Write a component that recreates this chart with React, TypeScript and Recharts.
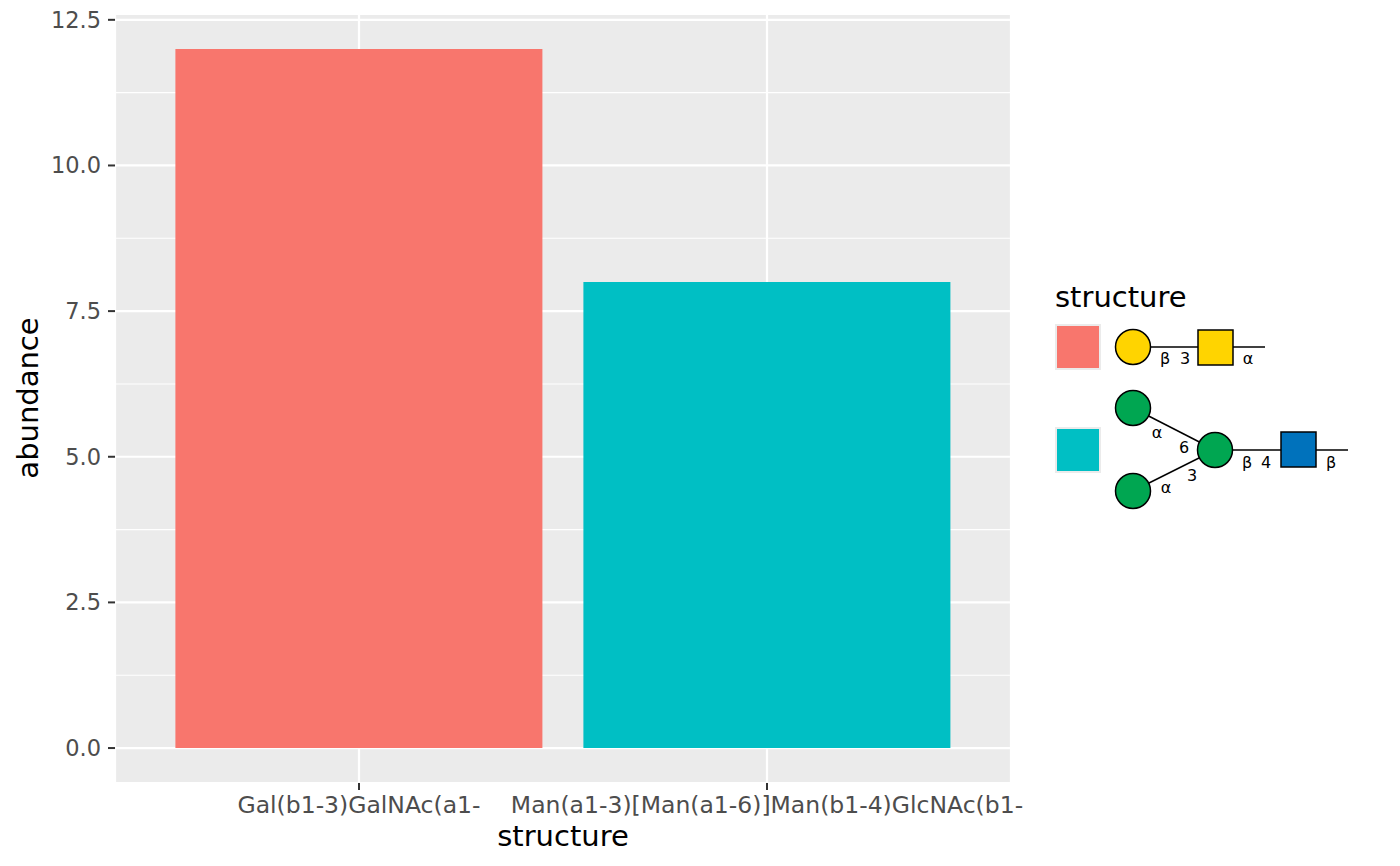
import { BarChart, Bar, XAxis, YAxis, CartesianGrid, Cell, Customized } from "recharts"

const structures = ["Gal(b1-3)GalNAc(a1-", "Man(a1-3)[Man(a1-6)]Man(b1-4)GlcNAc(b1-"]
const abundance = [12, 8]
const barColors = ["#F8766D", "#00BFC4"]
const yTicks = [0, 2.5, 5, 7.5, 10, 12.5]
const yMinorTicks = [1.25, 3.75, 6.25, 8.75, 11.25]

const data = structures.map((s, i) => ({ structure: s, abundance: abundance[i] }))

const FONT = "'DejaVu Sans', sans-serif"

function Lbl({ x, y, t, size = 16 }: { x: number; y: number; t: string; size?: number }) {
  return (
    <text x={x} y={y} fontSize={size} fontFamily={FONT} textAnchor="middle" fill="#000">
      {t}
    </text>
  )
}

// glycan cartoons drawn in the legend, keyed by structure index
function Glycan0() {
  return (
    <g stroke="#000" strokeWidth={1.5}>
      <line x1={1150} y1={347} x2={1265} y2={347} />
      <circle cx={1133} cy={347} r={17.5} fill="#FFD400" />
      <rect x={1198} y={330} width={35} height={35} fill="#FFD400" />
      <g stroke="none">
        <Lbl x={1165} y={364} t="β" />
        <Lbl x={1185} y={364} t="3" />
        <Lbl x={1248} y={364} t="α" />
      </g>
    </g>
  )
}

function Glycan1() {
  return (
    <g stroke="#000" strokeWidth={1.5}>
      <line x1={1133} y1={408} x2={1215} y2={450} />
      <line x1={1133} y1={491} x2={1215} y2={450} />
      <line x1={1215} y1={450} x2={1348} y2={450} />
      <circle cx={1133} cy={408} r={17.5} fill="#00A651" />
      <circle cx={1133} cy={491} r={17.5} fill="#00A651" />
      <circle cx={1215} cy={450} r={17.5} fill="#00A651" />
      <rect x={1281} y={432} width={35} height={35} fill="#0072BC" />
      <g stroke="none">
        <Lbl x={1157} y={438} t="α" />
        <Lbl x={1184} y={453} t="6" />
        <Lbl x={1166} y={493} t="α" />
        <Lbl x={1192} y={481} t="3" />
        <Lbl x={1247} y={468} t="β" />
        <Lbl x={1266} y={468} t="4" />
        <Lbl x={1331} y={468} t="β" />
      </g>
    </g>
  )
}

const glycans = [Glycan0, Glycan1]
const keyTops = [325, 428]

function LegendAndTitles() {
  return (
    <g>
      <text x={28} y={398} transform="rotate(-90 28 398)" fontSize={29} fontFamily={FONT} textAnchor="middle" dominantBaseline="central" fill="#000">
        abundance
      </text>
      <text x={563} y={846} fontSize={29} fontFamily={FONT} textAnchor="middle" fill="#000">
        structure
      </text>
      <text x={1055} y={307} fontSize={29} fontFamily={FONT} fill="#000">
        structure
      </text>
      {structures.map((s, i) => {
        const G = glycans[i]
        return (
          <g key={s}>
            <rect x={1056} y={keyTops[i]} width={44} height={44} fill={barColors[i]} stroke="#EBEBEB" strokeWidth={2} />
            <G />
          </g>
        )
      })}
    </g>
  )
}

export default function App() {
  return (
    <div style={{ position: "absolute", left: 0, top: 0, width: 1400, height: 866, background: "#fff" }}>
      <BarChart
        width={1400}
        height={866}
        data={data}
        margin={{ top: 14, right: 389, bottom: 0, left: 0 }}
        barCategoryGap="5%"
      >
        <CartesianGrid fill="#EBEBEB" stroke="#FFFFFF" strokeWidth={1.1} vertical={false} horizontalValues={yMinorTicks} />
        <CartesianGrid stroke="#FFFFFF" strokeWidth={2.2} />
        <XAxis
          dataKey="structure"
          height={83}
          padding={{ left: 40, right: 40 }}
          axisLine={false}
          tickSize={7}
          tickMargin={6}
          tickLine={{ stroke: "#333333", strokeWidth: 2 }}
          tick={{ fontSize: 23.5, fill: "#4D4D4D", fontFamily: FONT }}
          interval={0}
        />
        <YAxis
          type="number"
          width={115}
          domain={[-0.6, 12.6]}
          ticks={yTicks}
          allowDataOverflow
          axisLine={false}
          tickSize={7}
          tickMargin={7}
          tickLine={{ stroke: "#333333", strokeWidth: 2 }}
          tick={{ fontSize: 22.5, fill: "#4D4D4D", fontFamily: FONT }}
          tickFormatter={(v: number) => v.toFixed(1)}
        />
        <Bar dataKey="abundance" isAnimationActive={false}>
          {data.map((d, i) => (
            <Cell key={d.structure} fill={barColors[i]} />
          ))}
        </Bar>
        <Customized component={LegendAndTitles} />
      </BarChart>
    </div>
  )
}
